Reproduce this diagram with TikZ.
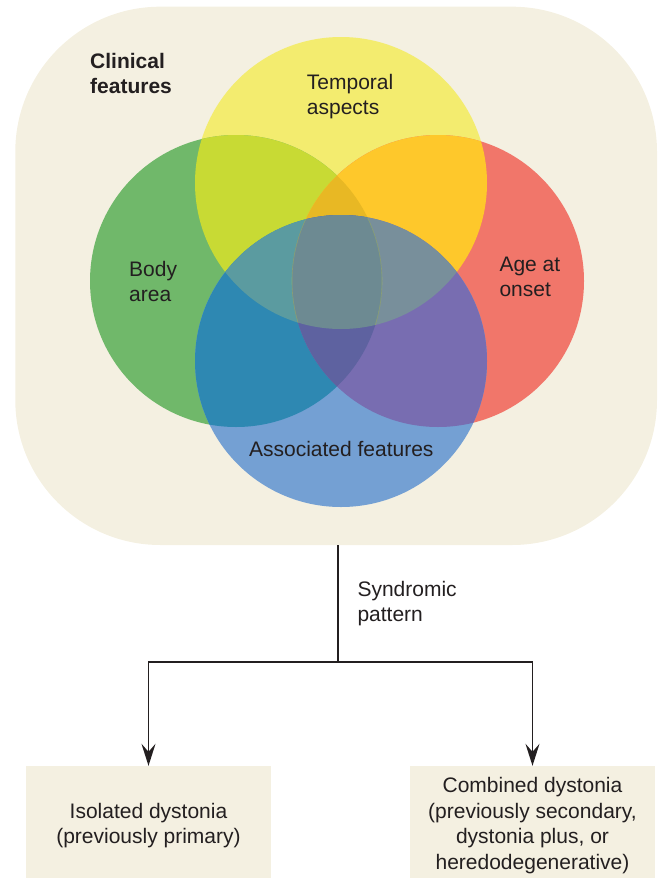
\documentclass[tikz,border=0pt]{standalone}
\usepackage{fontspec}
\setmainfont{Liberation Sans}
\usetikzlibrary{arrows.meta}

% palette
\definecolor{panel}{RGB}{244,240,225}
\definecolor{ink}{RGB}{35,31,32}
\definecolor{cY}{RGB}{243,236,111}
\definecolor{cG}{RGB}{112,184,106}
\definecolor{cR}{RGB}{241,118,106}
\definecolor{cB}{RGB}{116,160,211}
\definecolor{cYG}{RGB}{200,218,52}
\definecolor{cYR}{RGB}{254,200,43}
\definecolor{cGB}{RGB}{46,136,178}
\definecolor{cRB}{RGB}{120,109,177}
\definecolor{cYGR}{RGB}{232,184,36}
\definecolor{cYGB}{RGB}{91,155,160}
\definecolor{cYRB}{RGB}{120,143,155}
\definecolor{cGRB}{RGB}{94,98,160}
\definecolor{cAll}{RGB}{109,138,146}

% the four circles of the Venn diagram
\def\circY{(341,183) circle[radius=146pt]}
\def\circG{(236,281) circle[radius=146pt]}
\def\circR{(438,281) circle[radius=146pt]}
\def\circB{(341,361) circle[radius=146pt]}

\tikzset{
  txt/.style={inner sep=0pt, text=ink, font=\fontsize{21pt}{25pt}\selectfont, align=left},
  boldtxt/.style={txt, font=\fontsize{21pt}{25pt}\selectfont\bfseries},
  panelbox/.style={fill=panel, draw=none, inner sep=0pt},
  outbox/.style={panelbox, minimum width=245pt, minimum height=119pt, text=ink,
                 align=center, font=\fontsize{21pt}{25.5pt}\selectfont},
  conn/.style={draw=ink, line width=1.6pt},
  arr/.style={conn, -{Stealth[length=22pt,width=14pt,inset=8pt]}},
}

\begin{document}
\begin{tikzpicture}[x=1pt,y=-1pt]
\useasboundingbox (0,0) rectangle (657,878);

% background panel of the clinical features
\node[panelbox, rounded corners=145pt, minimum width=641.7pt, minimum height=538.3pt]
  (clin) at (336.15,275.85) {};

% base discs
\fill[cY] \circY;
\fill[cG] \circG;
\fill[cR] \circR;
\fill[cB] \circB;

% pairwise overlaps
\begin{scope}
  \clip \circY;
  \fill[cYG] \circG;
  \fill[cYR] \circR;
\end{scope}
\begin{scope}
  \clip \circB;
  \fill[cGB] \circG;
  \fill[cRB] \circR;
\end{scope}

% triple overlaps
\begin{scope}
  \clip \circY; \clip \circG;
  \fill[cYGR] \circR;
  \fill[cYGB] \circB;
\end{scope}
\begin{scope}
  \clip \circY; \clip \circR;
  \fill[cYRB] \circB;
\end{scope}
\begin{scope}
  \clip \circG; \clip \circR;
  \fill[cGRB] \circB;
\end{scope}

% centre, all four
\begin{scope}
  \clip \circY; \clip \circG; \clip \circR;
  \fill[cAll] \circB;
\end{scope}

% faint rims inside the central lens
\begin{scope}
  \clip \circY; \clip \circB;
  \draw[cYG, opacity=0.35, line width=0.6pt] \circG;
  \draw[cYG, opacity=0.35, line width=0.6pt] \circR;
\end{scope}

% labels (anchored at the baseline of their last line)
\node[boldtxt, anchor=base west] (clinlbl) at (90,93.6) {Clinical\\features};
\node[txt, anchor=base west] (temporal) at (306.7,114.3) {Temporal\\aspects};
\node[txt, anchor=base west] (body) at (129,301.7) {Body\\area};
\node[txt, anchor=base west] (age) at (499.3,296.7) {Age at\\onset};
\node[txt, anchor=base] (assoc) at (341.3,456.7) {Associated features};

% outcome boxes
\node[outbox] (iso) at (148.5,825.5) {Isolated dystonia\\(previously primary)};
\node[outbox] (comb) at (532.5,825.5) {Combined dystonia\\(previously secondary,\\dystonia plus, or\\heredodegenerative)};

% connectors
\coordinate (split) at (337.7,661.7);
\draw[conn] (clin.south -| split) -- (split);
\draw[arr] (split) -| (iso.north);
\draw[arr] (split) -| (comb.north);
\node[txt, anchor=base west] (synd) at (357.3,621.7) {Syndromic\\pattern};
\end{tikzpicture}
\end{document}
